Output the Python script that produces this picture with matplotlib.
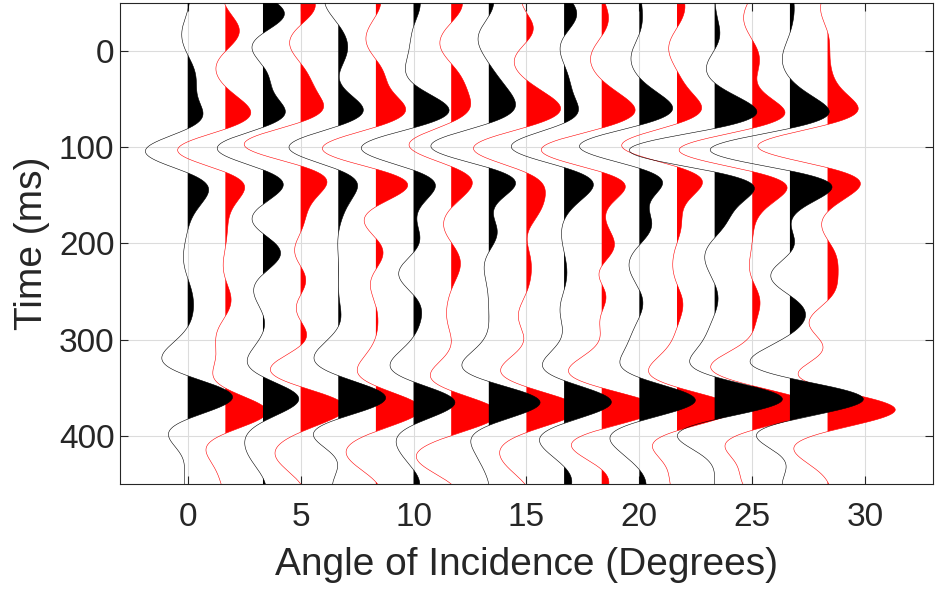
import numpy as np
import matplotlib
matplotlib.use("Agg")
import matplotlib.pyplot as plt

# ---------------- data ----------------
# trace positions (angle of incidence, degrees); even index = black, odd = red
angles = [0.0, 1.667, 3.333, 5.0, 6.667, 8.333, 10.0, 11.667, 13.333,
          15.0, 16.667, 18.333, 20.0, 21.667, 23.333, 25.0, 26.667, 28.333]

# lobe extremes of every trace: times (ms) and deflections (degree units)
times_00 = [-52, -20, 28, 61, 104, 152, 214, 259, 316, 360, 398, 445]
amps_00 = [0.08, -0.26, 0.37, 0.65, -1.88, 0.81, -0.19, 0.25, -1.12, 1.99, -0.85, -0.15]
times_01 = [-53, -20, 21, 63, 103, 144, 190, 261, 293, 340, 375, 416, 446]
amps_01 = [-0.09, 0.62, -0.41, 1.12, -2.12, 0.84, 0.08, 0.25, -0.38, -0.5, 1.85, -0.85, -0.24]
times_02 = [-38, 1, 28, 66, 101, 143, 172, 210, 248, 285, 326, 361, 420]
amps_02 = [0.95, -0.44, 0.28, 0.96, -2.03, 0.84, -0.47, 0.78, -0.41, 0.07, -0.66, 1.59, -0.65]
times_03 = [-48, -4, 25, 58, 97, 136, 162, 210, 240, 265, 290, 330, 370, 422, 450]
amps_03 = [0.65, -0.46, 0.35, 1.01, -2.51, 1.16, 0.4, -0.26, 0.22, -0.19, 0.22, -1.34, 2.0, -1.1, 0.0]
times_04 = [-55, -1, 24, 60, 100, 139, 165, 215, 262, 313, 361, 398, 450]
amps_04 = [-0.6, 0.41, 0.05, 1.10, -2.19, 0.85, 0.33, 0.0, 0.07, -0.99, 2.1, -1.1, -0.25]
times_05 = [-50, -5, 25, 60, 103, 136, 174, 214, 238, 273, 325, 371, 422, 448]
amps_05 = [0.22, -0.37, 0.4, 1.32, -2.35, 1.35, -0.51, 0.29, -0.22, 0.07, -0.74, 2.0, -1.25, 0.0]
times_06 = [-50, 20, 61, 101, 139, 172, 193, 231, 280, 328, 365, 401, 448]
amps_06 = [0.3, -0.36, 1.57, -2.32, 0.96, 0.15, 0.28, -0.66, 0.32, -1.03, 1.84, -0.71, 0.27]
times_07 = [-50, -1, 25, 51, 98, 138, 176, 221, 280, 339, 375, 425, 450]
amps_07 = [0.5, -0.43, 0.4, 0.85, -1.87, 0.93, -0.32, 0.41, -0.18, -0.91, 2.1, -1.5, 0.0]
times_08 = [-50, -15, 42, 99, 138, 172, 190, 240, 328, 365, 401, 450]
amps_08 = [0.22, -0.47, 0.92, -2.57, 1.18, 0.22, 0.37, -0.12, -1.18, 2.28, -0.74, 0.0]
times_09 = [-50, -18, 4, 58, 101, 166, 203, 228, 280, 326, 372, 428]
amps_09 = [-0.2, 0.25, -0.46, 1.5, -2.35, 0.62, 0.07, 0.22, -0.34, -1.04, 2.35, -1.0]
times_10 = [-39, -1, 27, 60, 99, 146, 196, 217, 270, 322, 365, 399, 446]
amps_10 = [0.56, -0.18, 0.2, 0.63, -2.35, 1.15, -0.1, 0.07, -0.18, -0.91, 2.1, -0.99, 0.34]
times_11 = [-35, 6, 58, 103, 139, 176, 207, 250, 332, 372, 406, 445]
amps_11 = [0.3, -0.49, 1.44, -2.68, 1.03, 0.19, 0.51, 0.15, -1.47, 2.45, -1.28, 0.3]
times_12 = [-50, 6, 60, 99, 134, 180, 225, 265, 325, 363, 404, 450]
amps_12 = [0.1, -0.37, 1.47, -2.66, 0.99, 0.55, -0.45, 0.15, -0.85, 2.49, -1.29, 0.3]
times_13 = [-50, -1, 34, 61, 98, 136, 180, 217, 262, 328, 372, 408, 450]
amps_13 = [0.34, -0.37, 0.34, 1.07, -2.46, 1.12, 0.2, -0.18, 0.26, -1.21, 2.6, -1.06, -0.3]
times_14 = [-50, -15, 18, 61, 103, 141, 176, 214, 259, 323, 362, 397, 445]
amps_14 = [0.02, 0.22, -0.37, 1.84, -3.79, 1.74, 0.6, -0.44, 0.15, -1.1, 3.01, -1.6, 0.0]
times_15 = [-37, 13, 60, 103, 139, 169, 230, 290, 326, 372, 407, 445]
amps_15 = [-0.38, 0.31, 1.38, -3.25, 1.49, 0.38, -0.1, 0.05, -1.82, 2.8, -1.16, -0.5]
times_16 = [-50, 8, 61, 103, 138, 185, 233, 275, 323, 362, 397, 450]
amps_16 = [0.18, -0.34, 1.72, -3.54, 1.79, 0.08, -0.85, 0.69, -1.76, 3.26, -1.44, -0.34]
times_17 = [-45, 27, 58, 99, 136, 176, 217, 282, 308, 340, 372, 418, 450]
amps_17 = [-0.31, 0.28, 1.34, -3.10, 1.43, -0.24, 0.43, -0.82, -0.2, -1.19, 3.0, -1.41, 0.05]

x_ticks = [0, 5, 10, 15, 20, 25, 30]
y_ticks = [0, 100, 200, 300, 400]

all_times = [times_00, times_01, times_02, times_03, times_04, times_05,
             times_06, times_07, times_08, times_09, times_10, times_11,
             times_12, times_13, times_14, times_15, times_16, times_17]
all_amps = [amps_00, amps_01, amps_02, amps_03, amps_04, amps_05,
            amps_06, amps_07, amps_08, amps_09, amps_10, amps_11,
            amps_12, amps_13, amps_14, amps_15, amps_16, amps_17]

# ---------------- drawing ----------------
F_HZ = 10.0  # wavelet frequency used to draw the wiggles


def ricker(dt_ms):
    u = (np.pi * F_HZ * np.asarray(dt_ms) / 1000.0) ** 2
    return (1 - 2 * u) * np.exp(-u)


def wiggle(tk, ak, tt):
    tk = np.asarray(tk, float)
    ak = np.asarray(ak, float)
    W = ricker(tk[:, None] - tk[None, :])
    lam = 2e-3
    r = np.linalg.solve(W.T @ W + lam * np.eye(len(tk)), W.T @ ak)
    return ricker(tt[:, None] - tk[None, :]) @ r


plt.rcParams["font.family"] = ["Liberation Sans", "DejaVu Sans"]
fig = plt.figure(figsize=(9.35, 5.91), dpi=100)
ax = fig.add_axes([0.1283, 0.181, 0.8695, 0.814])

tt = np.linspace(-50, 450, 2001)
order = [i for i in range(len(angles)) if i % 2 == 1] + [i for i in range(len(angles)) if i % 2 == 0]
for i in order:
    col = "k" if i % 2 == 0 else "r"
    z = 3 if i % 2 == 0 else 2
    x0 = angles[i]
    xs = x0 + wiggle(all_times[i], all_amps[i], tt)
    ax.fill_betweenx(tt, x0, xs, where=xs > x0, interpolate=True,
                     color=col, linewidth=0, zorder=z)
    ax.plot(xs, tt, color=col, linewidth=0.4, zorder=z + 0.1)

ax.set_xlim(-3, 33)
ax.set_ylim(450, -50)
ax.set_xticks(x_ticks)
ax.set_yticks(y_ticks)
ax.grid(True, color="#dcdcdc", linewidth=0.8, zorder=0)
ax.set_axisbelow(True)
for s in ax.spines.values():
    s.set_color("#262626")
    s.set_linewidth(0.8)
ax.tick_params(direction="in", length=6, width=0.8, colors="#262626",
               labelsize=24, top=True, right=True)
ax.tick_params(axis="x", pad=13)
ax.tick_params(axis="y", pad=4)
ax.set_xlabel("Angle of Incidence (Degrees)", fontsize=28, color="#262626", labelpad=10)
ax.set_ylabel("Time (ms)", fontsize=28, color="#262626", labelpad=6)

fig.savefig("out.png", dpi=100)
